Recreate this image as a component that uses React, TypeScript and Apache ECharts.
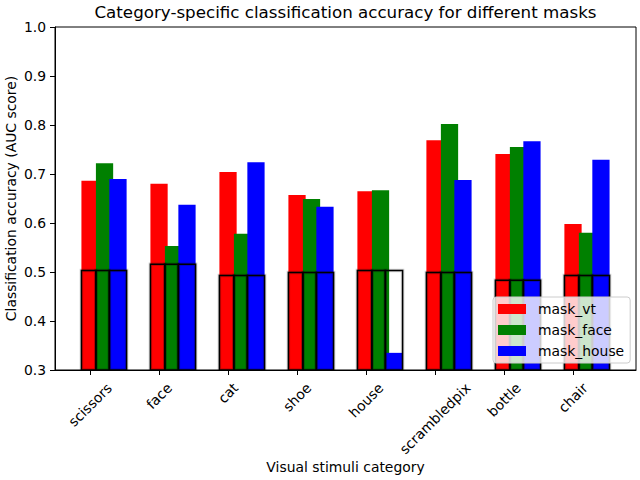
import React, { useEffect, useRef } from "react";
import * as echarts from "echarts";

const categories = ["scissors", "face", "cat", "shoe", "house", "scrambledpix", "bottle", "chair"];
const seriesNames = ["mask_vt", "mask_face", "mask_house"];
const maskVt = [0.686, 0.68, 0.704, 0.657, 0.665, 0.769, 0.741, 0.598];
const maskFace = [0.722, 0.553, 0.578, 0.649, 0.667, 0.802, 0.755, 0.58];
const maskHouse = [0.69, 0.637, 0.724, 0.633, 0.335, 0.688, 0.767, 0.729];
const chanceLevel = [0.503, 0.516, 0.493, 0.499, 0.503, 0.499, 0.483, 0.493];
const yTicks = [0.3, 0.4, 0.5, 0.6, 0.7, 0.8, 0.9, 1.0];

const COLORS = ["#ff0000", "#008000", "#0000ff"];
const OFFSETS = [0, 0.21, 0.405];
const BAR_W = 0.25;
const Y_MIN = 0.3;
const Y_MAX = 1.0;
const X_MIN = -0.508;
const X_MAX = 7.913;
const FONT = "DejaVu Sans";
const FS = 13.9;

let measureCtx: CanvasRenderingContext2D | null = null;
function textWidth(t: string): number {
  if (!measureCtx) {
    const c = document.createElement("canvas");
    measureCtx = c.getContext("2d");
  }
  if (!measureCtx) return t.length * 8;
  measureCtx.font = `${FS}px "${FONT}"`;
  return measureCtx.measureText(t).width;
}

export default function App() {
  const ref = useRef<HTMLDivElement>(null);
  useEffect(() => {
    if (!ref.current) return;
    const chart = echarts.init(ref.current, undefined, { renderer: "svg" });
    const allValues = [maskVt, maskFace, maskHouse];

    const barSeries = allValues.map((vals, k) => ({
      type: "custom",
      name: seriesNames[k],
      itemStyle: { color: COLORS[k] },
      clip: true,
      z: 2,
      data: vals.map((v, i) => [i + OFFSETS[k], v]),
      encode: { x: 0, y: 1 },
      renderItem: (params: any, api: any) => {
        const x = api.value(0);
        const y = api.value(1);
        const tl = api.coord([x - BAR_W / 2, y]);
        const br = api.coord([x + BAR_W / 2, Y_MIN]);
        return {
          type: "rect",
          shape: { x: tl[0], y: tl[1], width: br[0] - tl[0], height: br[1] - tl[1] },
          style: { fill: COLORS[k] },
        };
      },
    }));

    const boxSeries = {
      type: "custom",
      name: "chance",
      clip: true,
      z: 3,
      silent: true,
      data: chanceLevel.map((v, i) => [i, v]),
      encode: { x: 0, y: 1 },
      renderItem: (params: any, api: any) => {
        const i = api.value(0);
        const y = api.value(1);
        const edges = [
          i + OFFSETS[0] - BAR_W / 2,
          i + OFFSETS[1] - BAR_W / 2,
          i + OFFSETS[2] - BAR_W / 2,
          i + OFFSETS[2] + BAR_W / 2,
        ];
        const children: any[] = [];
        for (let k = 0; k < 3; k++) {
          const tl = api.coord([edges[k], y]);
          const br = api.coord([edges[k + 1], Y_MIN]);
          const shape = { x: tl[0], y: tl[1], width: br[0] - tl[0], height: br[1] - tl[1] };
          children.push({
            type: "rect",
            shape,
            style: { fill: "none", stroke: "rgba(0,0,0,0.18)", lineWidth: 3.5 },
          });
        }
        for (let k = 0; k < 3; k++) {
          const tl = api.coord([edges[k], y]);
          const br = api.coord([edges[k + 1], Y_MIN]);
          const shape = { x: tl[0], y: tl[1], width: br[0] - tl[0], height: br[1] - tl[1] };
          children.push({
            type: "rect",
            shape,
            style: { fill: "none", stroke: "#000000", lineWidth: 1.5 },
          });
        }
        return { type: "group", children };
      },
    };

    const labelSeries = {
      type: "custom",
      name: "labels",
      clip: false,
      silent: true,
      z: 5,
      data: categories.map((c, i) => [i, Y_MIN]),
      encode: { x: 0, y: 1 },
      renderItem: (params: any, api: any) => {
        const i = params.dataIndex;
        const text = categories[i];
        const p = api.coord([api.value(0), Y_MIN]);
        const w = textWidth(text);
        const h = 16;
        const bboxH = (w + h) * Math.SQRT1_2;
        const cy = p[1] + 4.9 + 4.9 + bboxH / 2;
        return {
          type: "text",
          x: p[0],
          y: cy,
          rotation: Math.PI / 4,
          style: {
            text,
            fill: "#000",
            font: `${FS}px "${FONT}"`,
            align: "center",
            verticalAlign: "middle",
          },
        };
      },
    };

    chart.setOption({
      animation: false,
      backgroundColor: "#ffffff",
      title: {
        text: "Category-specific classification accuracy for different masks",
        left: 345.5,
        top: 3,
        textAlign: "center",
        padding: 0,
        textStyle: { fontFamily: FONT, fontSize: 16.7, fontWeight: "normal", color: "#000" },
      },
      legend: {
        data: seriesNames,
        orient: "vertical",
        left: 493,
        top: 297,
        itemWidth: 28,
        itemHeight: 10,
        itemGap: 5,
        icon: "rect",
        selectedMode: false,
        padding: [4, 6, 4, 5],
        backgroundColor: "rgba(255,255,255,0.8)",
        borderColor: "#cccccc",
        borderWidth: 1,
        borderRadius: 3,
        textStyle: { fontFamily: FONT, fontSize: FS, color: "#000", lineHeight: 16, padding: [0, 0, 0, 7] },
      },
      grid: {
        left: 55,
        right: 4,
        top: 27,
        bottom: 110,
        show: true,
        borderColor: "#000",
        borderWidth: 1,
        backgroundColor: "transparent",
        containLabel: false,
        outerBoundsMode: "none",
      },
      xAxis: {
        type: "value",
        min: X_MIN,
        max: X_MAX,
        name: "Visual stimuli category",
        nameLocation: "middle",
        nameGap: 90,
        nameMoveOverlap: false,
        nameTextStyle: { fontFamily: FONT, fontSize: FS, color: "#000" },
        axisLine: { show: true, onZero: false, lineStyle: { color: "#000", width: 1 } },
        axisTick: {
          show: true,
          length: 5,
          customValues: categories.map((c, i) => i),
          lineStyle: { color: "#000", width: 1 },
        },
        axisLabel: { show: false, customValues: categories.map((c, i) => i) },
        splitLine: { show: false },
      },
      yAxis: {
        type: "value",
        min: Y_MIN,
        max: Y_MAX,
        interval: 0.1,
        name: "Classification accuracy (AUC score)",
        nameLocation: "middle",
        nameGap: 37,
        nameMoveOverlap: false,
        nameTextStyle: { fontFamily: FONT, fontSize: FS, color: "#000" },
        axisLine: { show: true, onZero: false, lineStyle: { color: "#000", width: 1 } },
        axisTick: { show: true, length: 5, lineStyle: { color: "#000", width: 1 } },
        axisLabel: {
          fontFamily: FONT,
          fontSize: FS,
          color: "#000",
          margin: 9,
          formatter: (v: number) => {
            const t = yTicks.find((tk) => Math.abs(tk - v) < 1e-6);
            return (t !== undefined ? t : v).toFixed(1);
          },
        },
        splitLine: { show: false },
      },
      series: [...barSeries, boxSeries, labelSeries],
    } as any);
    return () => chart.dispose();
  }, []);
  return (
    <div
      ref={ref}
      style={{ position: "absolute", left: 0, top: 0, width: 640, height: 480 }}
    />
  );
}
